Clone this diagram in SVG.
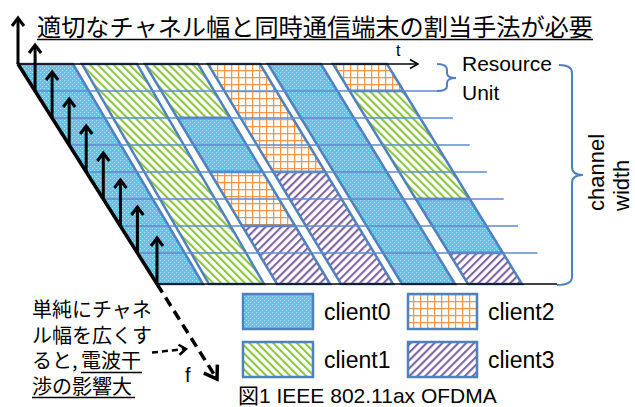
<svg xmlns="http://www.w3.org/2000/svg" width="635" height="407" viewBox="0 0 635 407">
<defs>
<style>
.blk{stroke:#4f81bd;stroke-width:2.5;stroke-linejoin:miter}
.c0{fill:url(#p0)}
.c1{fill:url(#p1)}
.c2{fill:url(#p2)}
.c3{fill:url(#p3)}
.row{stroke:#5b8bd0;stroke-width:1.4;fill:none}
.ax{stroke:#000;fill:none}
.lat{font-family:"Liberation Sans",Arial,sans-serif;fill:#000}
.jp{font-family:"Noto Sans CJK JP",sans-serif;fill:#000}
.brace{fill:none;stroke:#4f81bd;stroke-width:2}
</style>
<pattern id="p0" width="4" height="4" patternUnits="userSpaceOnUse">
<rect width="4" height="4" fill="#5cc5ec"/>
<rect x="0" y="0" width="1" height="1" fill="#b3e5f7"/>
<rect x="2" y="2" width="1" height="1" fill="#b3e5f7"/>
</pattern>
<pattern id="p1" width="5.6" height="5.6" patternUnits="userSpaceOnUse" patternTransform="rotate(-45)">
<rect width="5.6" height="5.6" fill="#fff"/>
<rect width="2.1" height="5.6" fill="#8cc63f"/>
</pattern>
<pattern id="p2" width="7" height="7" patternUnits="userSpaceOnUse">
<rect width="7" height="7" fill="#fff"/>
<path d="M0,0.6H7M0.6,0V7" stroke="#f79646" stroke-width="1.3"/>
</pattern>
<pattern id="p3" width="5.6" height="5.6" patternUnits="userSpaceOnUse" patternTransform="rotate(45)">
<rect width="5.6" height="5.6" fill="#fff"/>
<rect width="2.1" height="5.6" fill="#8064a2"/>
</pattern>
<marker id="mUp" markerUnits="userSpaceOnUse" viewBox="-12 -9 14 18" markerWidth="14" markerHeight="18" refX="0" refY="0" orient="auto" overflow="visible">
<path d="M-8,-6 L0,0 L-8,6" fill="none" stroke="#000" stroke-width="3"/>
</marker>
<marker id="mT" markerUnits="userSpaceOnUse" viewBox="-12 -9 14 18" markerWidth="14" markerHeight="18" refX="0" refY="0" orient="auto" overflow="visible">
<path d="M-8,-4.5 L0,0 L-8,4.5" fill="none" stroke="#000" stroke-width="1.5"/>
</marker>
<marker id="mF" markerUnits="userSpaceOnUse" viewBox="-16 -12 18 24" markerWidth="18" markerHeight="24" refX="0" refY="0" orient="auto" overflow="visible">
<path d="M-12,-8 L0,0 L-12,8" fill="none" stroke="#000" stroke-width="3.5"/>
</marker>
<marker id="mS" markerUnits="userSpaceOnUse" viewBox="-12 -9 14 18" markerWidth="14" markerHeight="18" refX="0" refY="0" orient="auto" overflow="visible">
<path d="M-7,-5 L0,0 L-7,5" fill="none" stroke="#000" stroke-width="2.5"/>
</marker>
</defs>

<rect width="635" height="407" fill="#fff"/>

<g id="title">
<text class="jp" x="37" y="35.5" font-size="24" textLength="556" lengthAdjust="spacingAndGlyphs">適切なチャネル幅と同時通信端末の割当手法が必要</text>
<line x1="37" y1="39.5" x2="593" y2="39.5" stroke="#000" stroke-width="1.6"/>
</g>

<g id="resource-grid">
<g id="col0"><polygon class="blk c0" points="18,64 73,64 203,284 157,284"/></g>
<g id="col1"><polygon class="blk c1" points="82,64 137,64 264,284 209,284"/></g>
<g id="col2">
<polygon class="blk c1" points="145,64 198,64 230.4,118 177.4,118"/>
<polygon class="blk c0" points="177.4,118 230.4,118 262.8,172 209.8,172"/>
<polygon class="blk c2" points="209.8,172 262.8,172 295.2,226 242.2,226"/>
<polygon class="blk c3" points="242.2,226 295.2,226 330,284 277,284"/>
</g>
<g id="col3">
<polygon class="blk c2" points="208,64 260,64 325.3,172 273.3,172"/>
<polygon class="blk c3" points="273.3,172 325.3,172 393,284 341,284"/>
</g>
<g id="col4"><polygon class="blk c0" points="268,64 321,64 455,284 402,284"/></g>
<g id="col5">
<polygon class="blk c2" points="333,64 387,64 403.6,91 349.6,91"/>
<polygon class="blk c1" points="349.6,91 403.6,91 469.8,199 415.8,199"/>
<polygon class="blk c0" points="415.8,199 469.8,199 503,253 449,253"/>
<polygon class="blk c3" points="449,253 503,253 522,284 468,284"/>
</g>
</g>

<g id="connectors">
<g id="row-lines">
<line class="row" x1="35.1" y1="91" x2="437" y2="91"/>
<line class="row" x1="52.1" y1="118" x2="452.9" y2="118"/>
<line class="row" x1="69.2" y1="145" x2="469.8" y2="145"/>
<line class="row" x1="86.2" y1="172" x2="486.8" y2="172"/>
<line class="row" x1="103.3" y1="199" x2="503.7" y2="199"/>
<line class="row" x1="120.4" y1="226" x2="518" y2="226"/>
<line class="row" x1="137.4" y1="253" x2="537.5" y2="253"/>
</g>
<line class="ax" x1="18" y1="64" x2="418" y2="64" stroke-width="1.5" marker-end="url(#mT)"/>
<line class="ax" x1="157" y1="284" x2="557" y2="284" stroke-width="1.5"/>
<line class="ax" x1="18" y1="64" x2="157" y2="284" stroke-width="3.5"/>
<line class="ax" x1="157" y1="284" x2="217" y2="379" stroke-width="3.5" stroke-dasharray="10 6" marker-end="url(#mF)"/>
<line class="ax" x1="152" y1="352.5" x2="186" y2="349" stroke-width="2.5" stroke-dasharray="6 4" marker-end="url(#mS)"/>
<g id="up-arrows" class="ax" stroke-width="3">
<line x1="18" y1="64" x2="18" y2="18" marker-end="url(#mUp)"/>
<line x1="35.1" y1="91" x2="35.1" y2="45" marker-end="url(#mUp)"/>
<line x1="52.1" y1="118" x2="52.1" y2="72" marker-end="url(#mUp)"/>
<line x1="69.2" y1="145" x2="69.2" y2="99" marker-end="url(#mUp)"/>
<line x1="86.2" y1="172" x2="86.2" y2="126" marker-end="url(#mUp)"/>
<line x1="103.3" y1="199" x2="103.3" y2="153" marker-end="url(#mUp)"/>
<line x1="120.4" y1="226" x2="120.4" y2="180" marker-end="url(#mUp)"/>
<line x1="137.4" y1="253" x2="137.4" y2="207" marker-end="url(#mUp)"/>
<line x1="157" y1="284" x2="157" y2="238" marker-end="url(#mUp)"/>
</g>
<path class="brace" d="M437,64 Q447,64 447,70 L447,73 Q447,78 456,78 Q447,78 447,83 L447,86 Q447,91 437,91"/>
<path class="brace" d="M559,65 Q572,65 572,73 L572,167 Q572,175 583,175 Q572,175 572,183 L572,277 Q572,285 557,285"/>
</g>

<g id="labels">
<text class="lat" x="396" y="55.5" font-size="16">t</text>
<text class="lat" x="185" y="382" font-size="20">f</text>
<text class="lat" x="462" y="70.5" font-size="21">Resource</text>
<text class="lat" x="462" y="100" font-size="21">Unit</text>
<text class="lat" font-size="22" transform="translate(604,211) rotate(-90)">channel</text>
<text class="lat" font-size="22" transform="translate(629,211) rotate(-90)">width</text>
</g>

<g id="note">
<text class="jp" x="32" y="317" font-size="20">単純にチャネ</text>
<text class="jp" x="32" y="342.5" font-size="20">ル幅を広くす</text>
<text class="jp" x="32" y="368" font-size="20">ると,<tspan x="81">電波干</tspan></text>
<text class="jp" x="32" y="393.5" font-size="20">渉の影響大</text>
<line x1="81" y1="372.5" x2="142" y2="372.5" stroke="#000" stroke-width="1.4"/>
<line x1="32" y1="397.5" x2="135" y2="397.5" stroke="#000" stroke-width="1.4"/>
</g>

<g id="legend">
<g id="legend-client0"><rect class="blk c0" x="243" y="294" width="70" height="35"/><text class="lat" x="324" y="320" font-size="23">client0</text></g>
<g id="legend-client2"><rect class="blk c2" x="408" y="294" width="69" height="35"/><text class="lat" x="488" y="320" font-size="23">client2</text></g>
<g id="legend-client1"><rect class="blk c1" x="243" y="342" width="70" height="35"/><text class="lat" x="324" y="368" font-size="23">client1</text></g>
<g id="legend-client3"><rect class="blk c3" x="408" y="342" width="69" height="35"/><text class="lat" x="488" y="368" font-size="23">client3</text></g>
</g>

<g id="caption">
<text class="lat" x="238" y="403" font-size="21"><tspan font-family="'Noto Sans CJK JP',sans-serif">図</tspan>1 IEEE 802.11ax OFDMA</text>
</g>
</svg>
